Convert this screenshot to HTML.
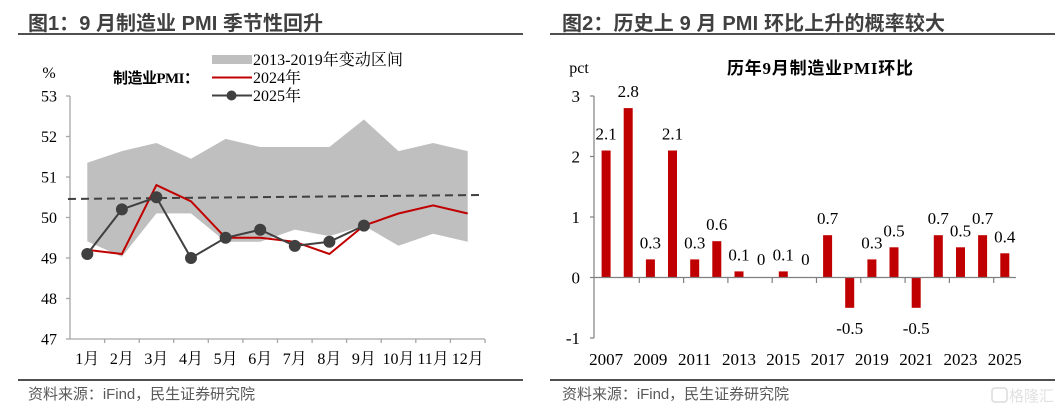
<!DOCTYPE html>
<html><head><meta charset="utf-8"><style>
html,body{margin:0;padding:0;background:#fff;}
svg{display:block;}
.t{font-family:"Liberation Sans","Noto Sans CJK SC",sans-serif;font-weight:bold;font-size:20px;fill:#404040;}
.s{font-family:"Liberation Sans","Noto Sans CJK SC",sans-serif;font-size:15px;fill:#595959;}
.a{font-family:"Liberation Serif","Noto Serif CJK SC",serif;font-size:16px;fill:#000;}
.b{font-family:"Liberation Serif","Noto Serif CJK SC",serif;font-size:17px;fill:#000;}
.bt{font-family:"Liberation Serif","Noto Sans CJK SC",sans-serif;font-weight:bold;fill:#000;}
</style></head><body>
<svg width="1064" height="414" viewBox="0 0 1064 414" xmlns="http://www.w3.org/2000/svg">
<!-- Titles -->
<text class="t" x="28" y="30" textLength="295" lengthAdjust="spacing">图1：9 月制造业 PMI 季节性回升</text>
<text class="t" x="562" y="30" textLength="383" lengthAdjust="spacing">图2：历史上 9 月 PMI 环比上升的概率较大</text>
<rect x="18" y="33" width="505" height="2" fill="#505050"/>
<rect x="550" y="33" width="505" height="2" fill="#505050"/>
<rect x="18" y="379" width="505" height="2" fill="#505050"/>
<rect x="550" y="379" width="505" height="2" fill="#505050"/>
<text class="s" x="28" y="399" textLength="227" lengthAdjust="spacing">资料来源：iFind，民生证券研究院</text>
<text class="s" x="562" y="399" textLength="227" lengthAdjust="spacing">资料来源：iFind，民生证券研究院</text>
<g opacity="0.9">
<rect x="992" y="388" width="15" height="14" rx="3" fill="none" stroke="#d6d6d6" stroke-width="1.5"/>
<text x="1009" y="401" style="font-family:'Noto Sans CJK SC',sans-serif;font-size:15px;fill:#dedede;">格隆汇</text>
</g>

<!-- LEFT CHART -->
<!-- band -->
<polygon fill="#bfbfbf" points="87.3,162.8 121.9,151.1 156.4,143.0 191.0,158.8 225.6,138.9 260.2,147.0 294.8,147.0 329.4,147.0 363.9,119.5 398.5,151.1 433.1,143.0 467.7,151.1 467.7,241.8 433.1,233.7 398.5,245.8 363.9,225.6 329.4,236.1 294.8,229.6 260.2,241.8 225.6,241.8 191.0,213.4 156.4,213.4 121.9,256.8 87.3,241.4"/>
<!-- axes -->
<line x1="70" y1="96" x2="70" y2="339" stroke="#a6a6a6" stroke-width="1.3"/>
<line x1="70" y1="339" x2="485" y2="339" stroke="#a6a6a6" stroke-width="1.3"/>
<g stroke="#a6a6a6" stroke-width="1.3">
<line x1="66" y1="96" x2="70" y2="96"/><line x1="66" y1="136.5" x2="70" y2="136.5"/><line x1="66" y1="177" x2="70" y2="177"/><line x1="66" y1="217.5" x2="70" y2="217.5"/><line x1="66" y1="258" x2="70" y2="258"/><line x1="66" y1="298.5" x2="70" y2="298.5"/><line x1="66" y1="339" x2="70" y2="339"/>
<line x1="104.6" y1="339" x2="104.6" y2="343"/><line x1="139.2" y1="339" x2="139.2" y2="343"/><line x1="173.7" y1="339" x2="173.7" y2="343"/><line x1="208.3" y1="339" x2="208.3" y2="343"/><line x1="242.9" y1="339" x2="242.9" y2="343"/><line x1="277.5" y1="339" x2="277.5" y2="343"/><line x1="312.1" y1="339" x2="312.1" y2="343"/><line x1="346.6" y1="339" x2="346.6" y2="343"/><line x1="381.2" y1="339" x2="381.2" y2="343"/><line x1="415.8" y1="339" x2="415.8" y2="343"/><line x1="450.4" y1="339" x2="450.4" y2="343"/><line x1="485" y1="339" x2="485" y2="343"/>
</g>
<g class="a" text-anchor="end">
<text x="57" y="101.5">53</text><text x="57" y="142">52</text><text x="57" y="182.5">51</text><text x="57" y="223">50</text><text x="57" y="263.5">49</text><text x="57" y="304">48</text><text x="57" y="344.5">47</text>
</g>
<text class="a" x="49" y="78" text-anchor="middle">%</text>
<g class="a" text-anchor="middle">
<text x="87.3" y="364">1月</text><text x="121.9" y="364">2月</text><text x="156.4" y="364">3月</text><text x="191.0" y="364">4月</text><text x="225.6" y="364">5月</text><text x="260.2" y="364">6月</text><text x="294.8" y="364">7月</text><text x="329.4" y="364">8月</text><text x="363.9" y="364">9月</text><text x="398.5" y="364">10月</text><text x="433.1" y="364">11月</text><text x="467.7" y="364">12月</text>
</g>
<!-- dashed line -->
<line x1="68" y1="199" x2="483" y2="195" stroke="#404040" stroke-width="2" stroke-dasharray="8,5"/>
<!-- 2024 -->
<polyline fill="none" stroke="#c00000" stroke-width="2" points="87.3,249.9 121.9,254.0 156.4,185.1 191.0,201.3 225.6,237.8 260.2,237.8 294.8,241.8 329.4,254.0 363.9,225.6 398.5,213.5 433.1,205.4 467.7,213.5"/>
<!-- 2025 -->
<polyline fill="none" stroke="#404040" stroke-width="2" points="87.3,254.0 121.9,209.4 156.4,197.3 191.0,258.0 225.6,237.8 260.2,229.7 294.8,245.9 329.4,241.8 363.9,225.6"/>
<g fill="#404040">
<circle cx="87.3" cy="254.0" r="6"/><circle cx="121.9" cy="209.4" r="6"/><circle cx="156.4" cy="197.3" r="6"/><circle cx="191.0" cy="258.0" r="6"/><circle cx="225.6" cy="237.8" r="6"/><circle cx="260.2" cy="229.7" r="6"/><circle cx="294.8" cy="245.9" r="6"/><circle cx="329.4" cy="241.8" r="6"/><circle cx="363.9" cy="225.6" r="6"/>
</g>
<!-- legend -->
<rect x="212" y="55" width="40" height="9" fill="#bfbfbf"/>
<text class="a" x="253" y="65" textLength="150" lengthAdjust="spacing">2013-2019年变动区间</text>
<line x1="212" y1="77.5" x2="252" y2="77.5" stroke="#c00000" stroke-width="2"/>
<text class="a" x="253" y="83">2024年</text>
<line x1="212" y1="95.5" x2="252" y2="95.5" stroke="#404040" stroke-width="2"/>
<circle cx="231.5" cy="95.5" r="5" fill="#404040"/>
<text class="a" x="253" y="101">2025年</text>
<text class="bt" x="113" y="83" font-size="15" textLength="86" lengthAdjust="spacing">制造业PMI：</text>

<!-- RIGHT CHART -->
<text class="bt" x="727" y="74" font-size="17" textLength="186" lengthAdjust="spacing">历年9月制造业PMI环比</text>
<text class="b" x="579" y="73" text-anchor="middle" style="font-size:16px">pct</text>
<line x1="594" y1="96" x2="594" y2="338" stroke="#808080" stroke-width="1.2"/>
<g stroke="#808080" stroke-width="1.2">
<line x1="590" y1="96" x2="594" y2="96"/><line x1="590" y1="156.5" x2="594" y2="156.5"/><line x1="590" y1="217" x2="594" y2="217"/><line x1="590" y1="277.5" x2="594" y2="277.5"/><line x1="590" y1="338" x2="594" y2="338"/>
</g>
<g class="b" text-anchor="end">
<text x="580" y="102">3</text><text x="580" y="162.5">2</text><text x="580" y="223">1</text><text x="580" y="283.5">0</text><text x="580" y="344">-1</text>
</g>
<g fill="#c00000">
<rect x="601.6" y="150.5" width="9" height="127"/>
<rect x="623.7" y="108.1" width="9" height="169.4"/>
<rect x="645.9" y="259.4" width="9" height="18.1"/>
<rect x="668.0" y="150.5" width="9" height="127"/>
<rect x="690.2" y="259.4" width="9" height="18.1"/>
<rect x="712.3" y="241.2" width="9" height="36.3"/>
<rect x="734.5" y="271.4" width="9" height="6.1"/>
<rect x="778.8" y="271.4" width="9" height="6.1"/>
<rect x="823.1" y="235.2" width="9" height="42.3"/>
<rect x="845.2" y="277.5" width="9" height="30.3"/>
<rect x="867.4" y="259.4" width="9" height="18.1"/>
<rect x="889.5" y="247.3" width="9" height="30.2"/>
<rect x="911.7" y="277.5" width="9" height="30.3"/>
<rect x="933.8" y="235.2" width="9" height="42.3"/>
<rect x="956.0" y="247.3" width="9" height="30.2"/>
<rect x="978.1" y="235.2" width="9" height="42.3"/>
<rect x="1000.3" y="253.3" width="9" height="24.2"/>
</g>
<line x1="594" y1="277.5" x2="1016" y2="277.5" stroke="#808080" stroke-width="1.2"/>
<g stroke="#808080" stroke-width="1.2">
<line x1="639.3" y1="277.5" x2="639.3" y2="283"/><line x1="683.6" y1="277.5" x2="683.6" y2="283"/><line x1="727.9" y1="277.5" x2="727.9" y2="283"/><line x1="772.2" y1="277.5" x2="772.2" y2="283"/><line x1="816.5" y1="277.5" x2="816.5" y2="283"/><line x1="860.8" y1="277.5" x2="860.8" y2="283"/><line x1="905.1" y1="277.5" x2="905.1" y2="283"/><line x1="949.4" y1="277.5" x2="949.4" y2="283"/><line x1="993.7" y1="277.5" x2="993.7" y2="283"/>
</g>
<g class="b" text-anchor="middle">
<text x="606.1" y="139.5">2.1</text>
<text x="628.2" y="97">2.8</text>
<text x="650.4" y="248.4">0.3</text>
<text x="672.5" y="139.5">2.1</text>
<text x="694.7" y="248.4">0.3</text>
<text x="716.8" y="230.2">0.6</text>
<text x="739.0" y="260.4">0.1</text>
<text x="761.1" y="265">0</text>
<text x="783.3" y="260.4">0.1</text>
<text x="805.4" y="265">0</text>
<text x="827.6" y="224.2">0.7</text>
<text x="849.7" y="334">-0.5</text>
<text x="871.9" y="248.4">0.3</text>
<text x="894.0" y="236.3">0.5</text>
<text x="916.2" y="334">-0.5</text>
<text x="938.3" y="224.2">0.7</text>
<text x="960.5" y="236.3">0.5</text>
<text x="982.6" y="224.2">0.7</text>
<text x="1004.8" y="242.3">0.4</text>
</g>
<g class="b" text-anchor="middle">
<text x="606.1" y="365">2007</text><text x="650.4" y="365">2009</text><text x="694.7" y="365">2011</text><text x="739.0" y="365">2013</text><text x="783.3" y="365">2015</text><text x="827.6" y="365">2017</text><text x="871.9" y="365">2019</text><text x="916.2" y="365">2021</text><text x="960.5" y="365">2023</text><text x="1004.8" y="365">2025</text>
</g>
</svg>
</body></html>
